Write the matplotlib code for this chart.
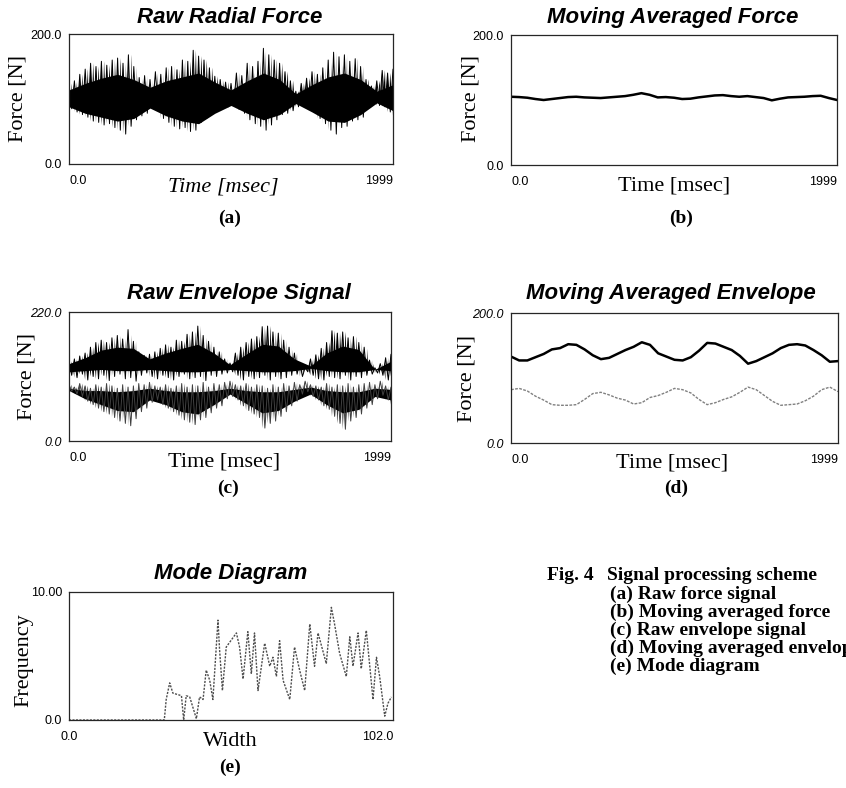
import matplotlib.pyplot as plt
import numpy as np

W, H = 846, 788

# (a) raw radial force: spike extremes every 33 ms, solid core every 100 ms
force_hi = [124, 128, 138, 146, 155, 150, 158, 152, 160, 163, 155, 168, 150, 133, 136, 130,
            142, 138, 148, 150, 145, 160, 158, 175, 166, 160, 148, 135, 130, 126, 124, 140,
            136, 155, 150, 158, 178, 168, 160, 155, 142, 128, 112, 124, 132, 142, 138, 148,
            160, 172, 165, 168, 158, 162, 150, 130, 120, 128, 144, 140, 146]
force_lo = [85, 80, 76, 72, 66, 64, 60, 62, 56, 52, 46, 58, 68, 74, 78, 86, 84, 70, 64, 58,
            54, 56, 50, 52, 64, 70, 80, 84, 90, 88, 90, 84, 78, 68, 62, 58, 52, 60, 68, 76,
            78, 82, 88, 93, 86, 80, 70, 62, 52, 46, 56, 58, 66, 68, 72, 88, 95, 90, 88, 80, 74]
force_core_hi = [114, 124, 132, 138, 130, 118, 128, 134, 140, 126, 114, 128, 140, 130, 108,
                 122, 134, 140, 130, 112, 122]
force_core_lo = [88, 78, 72, 66, 70, 86, 74, 66, 62, 78, 90, 78, 68, 76, 93, 80, 66, 64, 76,
                 94, 82]

# (b) moving averaged force, every 50 ms
avg_force = [105, 104.5, 103.5, 101.5, 100, 101.5, 103, 104.5, 105, 104, 103.5, 103, 104, 105,
             106, 108, 110.5, 108, 104, 104.5, 103.5, 101.5, 102, 104, 105.5, 107, 107.5, 106,
             105, 106, 104.5, 103, 99.5, 102, 104, 104.5, 105, 106, 106.5, 103, 100]

# (c) raw envelope signal, upper and lower bands
env_up_hi = [136, 140, 145, 150, 160, 168, 172, 168, 176, 180, 174, 190, 170, 152, 146, 148,
             152, 158, 164, 160, 172, 170, 182, 186, 196, 180, 170, 160, 152, 140, 133, 150,
             160, 168, 174, 178, 195, 196, 186, 184, 172, 160, 150, 134, 125, 140, 147, 158,
             168, 188, 184, 186, 176, 178, 168, 160, 138, 125, 132, 142, 148]
env_up_lo = [112, 108, 114, 104, 110, 106, 112, 103, 110, 114, 106, 108, 102, 112, 116, 110,
             106, 112, 108, 104, 110, 114, 106, 108, 110, 103, 112, 110, 114, 116, 118, 112,
             104, 110, 106, 108, 112, 104, 110, 106, 108, 112, 114, 110, 118, 112, 106, 104,
             110, 108, 106, 112, 104, 110, 108, 112, 114, 116, 112, 104, 110]
env_lo_hi = [96, 92, 98, 94, 90, 96, 92, 98, 94, 90, 96, 92, 94, 98, 96, 100, 94, 92, 96, 90,
             94, 98, 92, 96, 94, 100, 92, 98, 96, 100, 102, 96, 94, 98, 92, 96, 94, 90, 96, 92,
             98, 94, 100, 96, 102, 96, 94, 92, 98, 92, 96, 94, 98, 92, 96, 98, 100, 96, 102, 94, 92]
env_lo_lo = [85, 80, 76, 68, 62, 56, 50, 46, 40, 34, 30, 26, 38, 50, 56, 66, 70, 62, 56, 50,
             44, 36, 32, 28, 36, 40, 48, 56, 60, 72, 76, 70, 60, 52, 46, 40, 22, 30, 34, 42,
             50, 60, 68, 80, 84, 76, 70, 60, 54, 42, 30, 20, 34, 40, 46, 56, 62, 72, 78, 70, 62]
env_up_core_hi = [132, 142, 155, 160, 158, 140, 150, 158, 165, 150, 130, 148, 165, 162, 140,
                  128, 150, 162, 156, 122, 136]
env_up_core_lo = [118, 120, 122, 120, 120, 122, 120, 118, 118, 120, 122, 120, 118, 118, 120,
                  124, 120, 118, 118, 122, 120]
env_lo_core_hi = [90, 86, 86, 84, 86, 90, 86, 84, 84, 86, 90, 86, 84, 84, 88, 92, 86, 84, 84,
                  90, 88]
env_lo_core_lo = [86, 72, 62, 52, 50, 70, 62, 50, 46, 62, 80, 64, 48, 52, 68, 80, 62, 48, 54,
                  76, 70]

# (d) moving averaged envelope, every 50 ms
avg_env_up = [133, 127, 127, 132, 137, 144, 146, 152, 151, 144, 135, 129, 131, 137, 143, 148,
              155, 151, 138, 133, 128, 127, 132, 142, 154, 153, 148, 143, 134, 122, 126, 132,
              138, 146, 151, 152, 150, 143, 135, 125, 126]
avg_env_lo = [82, 84, 80, 72, 66, 59, 58, 58, 59, 67, 76, 78, 74, 69, 66, 60, 62, 70, 73, 78,
              84, 82, 77, 67, 59, 62, 67, 71, 78, 86, 82, 73, 64, 58, 59, 60, 65, 72, 82, 86, 79]

# (e) mode diagram
mode_width = [0.0, 30.0, 30.6, 31.7, 32.7, 35.4, 36.1, 36.9, 38.0, 40.1, 41.1, 42.2, 43.2,
              44.3, 45.3, 46.9, 47.4, 48.3, 49.5, 52.7, 53.7, 54.8, 56.3, 57.4, 58.4, 59.5,
              61.6, 63.2, 64.2, 65.3, 66.3, 67.4, 69.5, 71.0, 72.6, 74.2, 75.8, 77.3, 78.4,
              81.0, 82.6, 83.6, 85.2, 87.3, 88.4, 89.4, 91.0, 92.0, 93.6, 95.7, 96.8, 97.8,
              99.4, 100.4, 101.5]
mode_freq = [0.0, 0.0, 1.6, 2.9, 2.1, 1.9, 0.0, 1.9, 1.8, 0.1, 1.8, 1.6, 3.9, 3.1, 1.6, 7.8,
             5.5, 2.3, 5.7, 6.8, 5.7, 3.2, 6.9, 3.6, 6.8, 2.3, 6.0, 4.2, 4.9, 3.4, 6.2, 3.1,
             1.6, 5.7, 3.9, 2.3, 7.5, 4.2, 6.8, 4.4, 8.8, 7.5, 5.2, 3.4, 6.5, 4.2, 6.8, 4.0,
             7.0, 1.6, 4.9, 3.4, 0.3, 1.3, 1.8]

caption = ['(a) Raw force signal', '(b) Moving averaged force', '(c) Raw envelope signal',
           '(d) Moving averaged envelope', '(e) Mode diagram']

T_END = 1999
SANS = 'Liberation Sans'
SERIF = 'Liberation Serif'
plt.rcParams['hatch.linewidth'] = 1.1

# axes boxes in pixels: left, top, right, bottom
A = (69, 34, 393, 164)
B = (511, 35, 837, 165)
C = (69, 312, 391, 441)
D = (511, 313, 838, 443)
E = (69, 592, 393, 720)

fig = plt.figure(figsize=(W / 100, H / 100), dpi=100)


def ax_xy(box, x, y):
    l, t, r, b = box
    return (x - l) / (r - l), (b - y) / (b - t)


def panel(box, xlim, ylim, xlabels, ylabels, title, title_xy, xlabel, xlabel_xy,
          ylabel, ylabel_xy, ytick_italic=False, xlabel_italic=False, first_ha='left'):
    l, t, r, b = box
    ax = fig.add_axes([l / W, 1 - b / H, (r - l) / W, (b - t) / H])
    ax.set_xlim(xlim)
    ax.set_ylim(ylim)
    ax.set_xticks(xlim)
    ax.set_xticklabels(xlabels, family=SANS, fontsize=9)
    ax.set_yticks(ylim)
    ax.set_yticklabels(ylabels, family=SANS, fontsize=9,
                       style='italic' if ytick_italic else 'normal')
    ax.tick_params(axis='x', length=0, pad=8)
    ax.tick_params(axis='y', length=0, pad=5)
    xt = ax.get_xticklabels()
    xt[0].set_ha(first_ha)
    xt[1].set_ha('right')
    for s in ax.spines.values():
        s.set_linewidth(0.9)
        s.set_color('0.15')
    ax.text(*ax_xy(box, *title_xy), title, transform=ax.transAxes, ha='center', va='center',
            family=SANS, fontsize=16, weight='bold', style='italic')
    ax.set_xlabel(xlabel, family=SERIF, fontsize=16, va='center',
                  style='italic' if xlabel_italic else 'normal')
    ax.xaxis.set_label_coords(*ax_xy(box, *xlabel_xy))
    ax.set_ylabel(ylabel, family=SERIF, fontsize=16, va='center')
    ax.yaxis.set_label_coords(*ax_xy(box, *ylabel_xy))
    return ax


def zigzag(hi, lo):
    t = np.linspace(0, T_END, len(hi))
    step = t[1] - t[0]
    tt = np.empty(2 * len(t))
    yy = np.empty(2 * len(t))
    tt[0::2] = t
    tt[1::2] = t + step / 2
    yy[0::2] = hi
    yy[1::2] = lo
    return tt, yy


def noisy_band(ax, hi, lo, core_hi, core_lo, color):
    # dense vertical strokes inside the jagged extremes, solid core inside
    tt, yy = zigzag(hi, lo)
    tt2, yy2 = zigzag(lo, hi)
    ax.fill_between(tt, yy2, yy, facecolor='none', edgecolor=color, hatch='||||||', lw=0)
    ax.plot(tt, yy, color=color, lw=0.7)
    tc = np.linspace(0, T_END, len(core_hi))
    ax.fill_between(tc, core_lo, core_hi, color='black', lw=0)


# (a)
ax = panel(A, (0, T_END), (0, 200), ['0.0', '1999'], ['0.0', '200.0'],
           'Raw Radial Force', (230, 17), 'Time [msec]', (223, 187), 'Force [N]', (18, 99),
           xlabel_italic=True)
noisy_band(ax, force_hi, force_lo, force_core_hi, force_core_lo, 'black')

# (b)
ax = panel(B, (0, T_END), (0, 200), ['0.0', '1999'], ['0.0', '200.0'],
           'Moving Averaged Force', (673, 17), 'Time [msec]', (674, 186), 'Force [N]', (471, 99))
ax.plot(np.linspace(0, T_END, len(avg_force)), avg_force, color='black', lw=1.8)

# (c)
ax = panel(C, (0, T_END), (0, 220), ['0.0', '1999'], ['0.0', '220.0'],
           'Raw Envelope Signal', (239, 293), 'Time [msec]', (224, 462), 'Force [N]', (27, 376),
           ytick_italic=True)
noisy_band(ax, env_up_hi, env_up_lo, env_up_core_hi, env_up_core_lo, 'black')
noisy_band(ax, env_lo_hi, env_lo_lo, env_lo_core_hi, env_lo_core_lo, '0.25')

# (d)
ax = panel(D, (0, T_END), (0, 200), ['0.0', '1999'], ['0.0', '200.0'],
           'Moving Averaged Envelope', (671, 293), 'Time [msec]', (672, 463), 'Force [N]',
           (467, 379), ytick_italic=True)
td = np.linspace(0, T_END, len(avg_env_up))
ax.plot(td, avg_env_up, color='black', lw=1.8)
ax.plot(td, avg_env_lo, color='0.5', lw=1.0, ls=(0, (2, 1)))

# (e)
ax = panel(E, (0, 102), (0, 10), ['0.0', '102.0'], ['0.0', '10.00'],
           'Mode Diagram', (231, 573), 'Width', (230, 742), 'Frequency', (24, 660),
           first_ha='center')
ax.plot(mode_width, mode_freq, color='0.3', lw=1.0, ls=(0, (1.5, 1)))

# sub-figure letters
for s, (x, y) in zip(['(a)', '(b)', '(c)', '(d)', '(e)'],
                     [(230, 218), (681, 218), (228, 488), (676, 488), (230, 767)]):
    fig.text(x / W, 1 - y / H, s, ha='center', va='center', family=SERIF, fontsize=14,
             weight='bold')

# caption
fig.text(547 / W, 1 - 576 / H, 'Fig. 4', ha='left', va='center', family=SERIF, fontsize=14,
         weight='bold')
fig.text(607 / W, 1 - 576 / H, 'Signal processing scheme', ha='left', va='center',
         family=SERIF, fontsize=14, weight='bold')
for i, line in enumerate(caption):
    fig.text(610 / W, 1 - (594 + 18 * i) / H, line, ha='left', va='center', family=SERIF,
             fontsize=14, weight='bold')

fig.savefig('out.png', dpi=100)
